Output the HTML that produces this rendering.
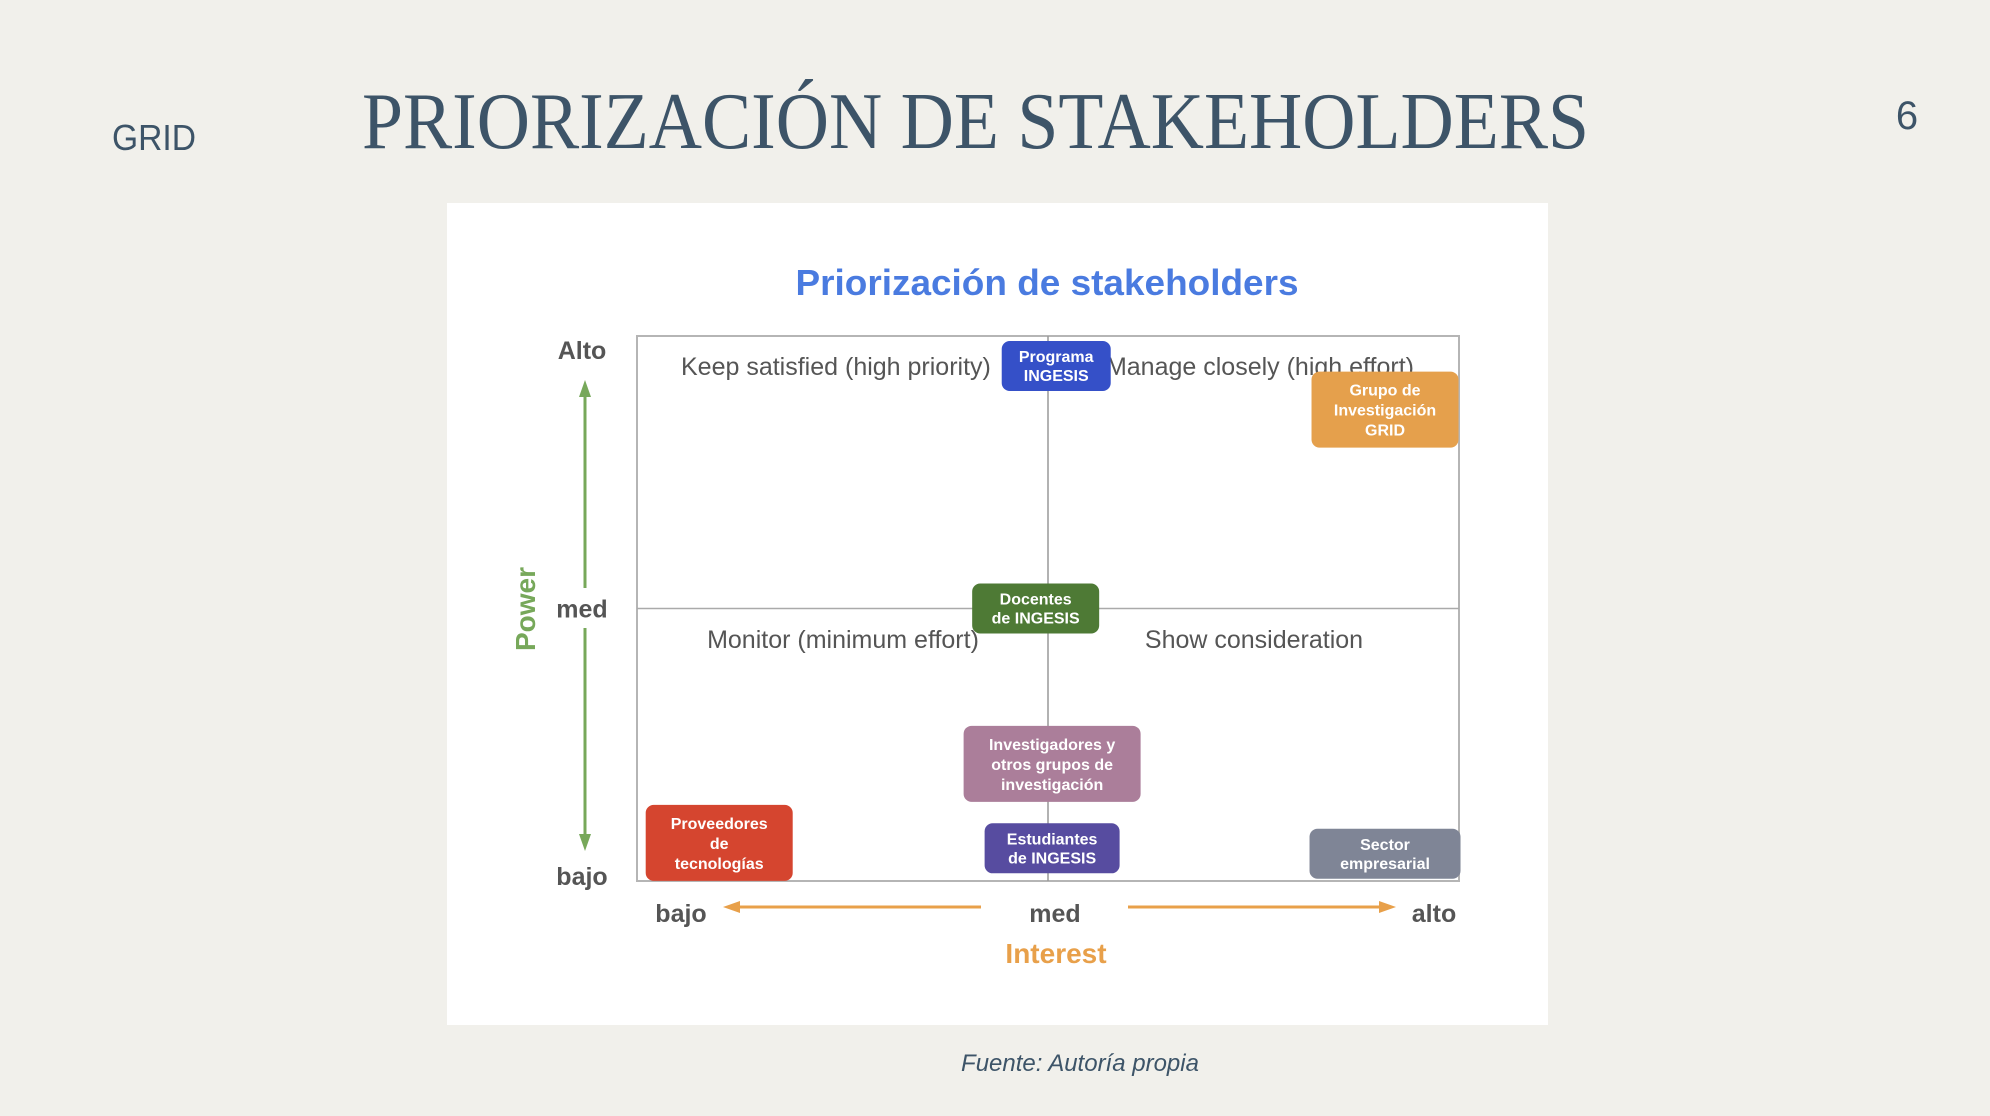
<!DOCTYPE html>
<html><head><meta charset="utf-8"><style>
html,body{margin:0;padding:0;background:#f1f0eb;}
svg{display:block;font-family:"Liberation Sans",sans-serif;}
</style></head><body>
<svg id="c" width="1990" height="1116" viewBox="0 0 1990 1116">
<rect width="1990" height="1116" fill="#f1f0eb"/>
<text x="112" y="150" font-size="36" fill="#3d5468" textLength="84" lengthAdjust="spacingAndGlyphs">GRID</text>
<text x="362" y="148" font-family="Liberation Serif,serif" font-size="80" fill="#3d5468" textLength="1227" lengthAdjust="spacingAndGlyphs">PRIORIZACIÓN DE STAKEHOLDERS</text>
<text x="1907" y="129" font-size="40" fill="#3d5468" text-anchor="middle">6</text>
<rect x="447" y="203" width="1101" height="822" fill="#ffffff"/>
<text x="1047" y="295" font-size="36" font-weight="bold" fill="#4a7be0" text-anchor="middle" textLength="503" lengthAdjust="spacingAndGlyphs">Priorización de stakeholders</text>
<g id="plot"></g>
<text x="1080" y="1071" font-size="24" font-style="italic" fill="#3d5468" text-anchor="middle">Fuente: Autoría propia</text>
</svg>
<script>
const names = ["Programa|INGESIS","Grupo de|Investigación|GRID","Docentes|de INGESIS","Investigadores y|otros grupos de|investigación","Proveedores|de|tecnologías","Estudiantes|de INGESIS","Sector|empresarial"];
const interest = [1.02, 1.82, 0.97, 1.01, 0.20, 1.01, 1.82];
const power = [1.89, 1.73, 1.00, 0.43, 0.14, 0.12, 0.10];
const colors = ["#3550c8","#e5a04c","#4e7a35","#ab7e9a","#d5452f","#574ca0","#7f8596"];
const xTicks = ["bajo","med","alto"];
const yTicks = ["bajo","med","Alto"];

const L=637,R=1459,T=336,B=881;
const xs=v=>L+(R-L)*v/2, ys=v=>B-(B-T)*v/2;
const NS="http://www.w3.org/2000/svg";
const g=document.getElementById('plot');
function mk(tag,attrs,parent){const e=document.createElementNS(NS,tag);for(const k in attrs)e.setAttribute(k,attrs[k]);(parent||g).appendChild(e);return e;}

let e;
e=mk('rect',{x:L,y:T,width:R-L,height:B-T,fill:'none',stroke:'#b5b5b5','stroke-width':2});


e=mk('line',{x1:xs(1),x2:xs(1),y1:T,y2:B,stroke:'#999','stroke-width':1.5});


e=mk('line',{x1:L,x2:R,y1:ys(1),y2:ys(1),stroke:'#aaa','stroke-width':1.5});



const quads=[["Keep satisfied (high priority)",681,375,'start'],["Manage closely (high effort)",1414,375,'end'],["Monitor (minimum effort)",843,648,'middle'],["Show consideration",1254,648,'middle']];
quads.forEach(q=>{e=mk('text',{x:q[1],y:q[2],'font-size':25,fill:'#555','text-anchor':q[3]});e.textContent=q[0];

});

const yOff=[4,9,23];
yTicks.forEach((t,i)=>{e=mk('text',{x:582,y:ys(i)+yOff[i],'font-size':25,'font-weight':'bold',fill:'#555','text-anchor':'middle'});e.textContent=t;

});
xTicks.forEach((t,i)=>{const xx=[681,1055,1434][i];e=mk('text',{x:xx,y:922,'font-size':25,'font-weight':'bold',fill:'#555','text-anchor':'middle'});e.textContent=t;

});

const grn='#77a85a',org='#e8a04a';
e=mk('line',{x1:585,x2:585,y1:395,y2:588,stroke:grn,'stroke-width':3});


mk('polygon',{points:'585,380 579,397 591,397',fill:grn});
e=mk('line',{x1:585,x2:585,y1:628,y2:836,stroke:grn,'stroke-width':3});


mk('polygon',{points:'585,851 579,834 591,834',fill:grn});
e=mk('line',{x1:738,x2:981,y1:907,y2:907,stroke:org,'stroke-width':3});


mk('polygon',{points:'723,907 740,901 740,913',fill:org});
e=mk('line',{x1:1128,x2:1381,y1:907,y2:907,stroke:org,'stroke-width':3});


mk('polygon',{points:'1396,907 1379,901 1379,913',fill:org});

e=mk('text',{x:0,y:0,'font-size':28,'font-weight':'bold',fill:grn,'text-anchor':'middle',transform:'translate(535,609) rotate(-90)'});e.textContent='Power';


e=mk('text',{x:1056,y:963,'font-size':28,'font-weight':'bold',fill:org,'text-anchor':'middle'});e.textContent='Interest';



const widths=[109,147,127,177,147,135,151];
names.forEach((n,i)=>{
  const lines=n.split('|');const w=widths[i];const lh=lines.length>2?20:19;const h=lines.length*lh+(lines.length>2?16:12);
  const cx=xs(interest[i]),cy=ys(power[i]);
  const grp=mk('g',{});
  
  
  mk('rect',{x:cx-w/2,y:cy-h/2,width:w,height:h,rx:8,fill:colors[i]},grp);
  lines.forEach((ln,j)=>{const t=mk('text',{x:cx,y:cy-h/2+h/2-(lines.length*lh)/2+lh*j+lh-4,'font-size':16,'font-weight':'bold',fill:'#fff','text-anchor':'middle'},grp);t.textContent=ln;});
});
</script>
</body></html>
